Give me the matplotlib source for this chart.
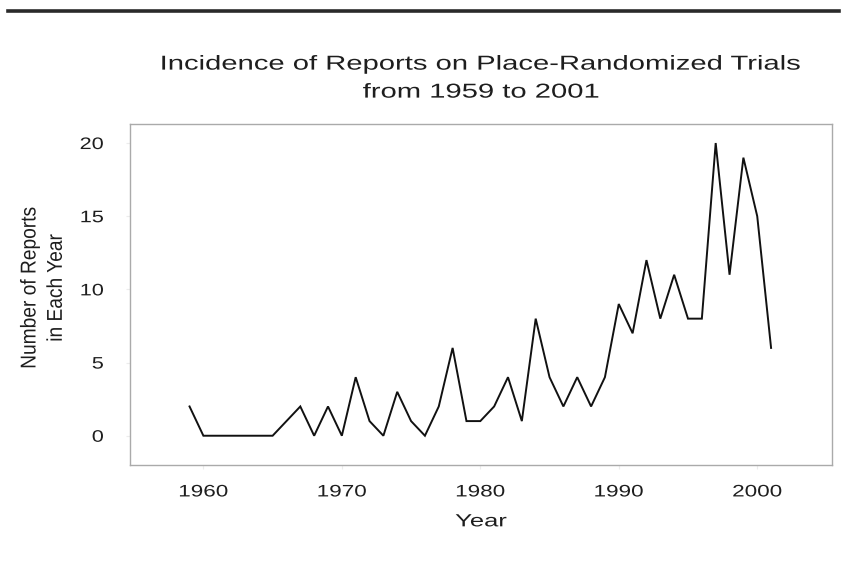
import matplotlib
matplotlib.use("Agg")
import matplotlib.pyplot as plt
from matplotlib.lines import Line2D
from matplotlib.patheffects import AbstractPathEffect
from matplotlib.transforms import Affine2D

years = list(range(1959, 2002))
reports = [2, 0, 0, 0, 0, 0, 0, 1, 2, 0, 2, 0, 4, 1, 0, 3, 1, 0, 2, 6, 1,
           1, 2, 4, 1, 8, 4, 2, 4, 2, 4, 9, 7, 12, 8, 11, 8, 8, 20, 11, 19,
           15, 6]
x_ticks = [1960, 1970, 1980, 1990, 2000]
y_ticks = [0, 5, 10, 15, 20]
title = 'Incidence of Reports on Place-Randomized Trials\nfrom 1959 to 2001'
xlabel = 'Year'
ylabel = 'Number of Reports\nin Each Year'


class HStretch(AbstractPathEffect):
    """Stretch rendered text horizontally (display x) about an anchor."""
    def __init__(self, sx, anchor='center'):
        super().__init__()
        self.sx = sx
        self.anchor = anchor

    def draw_path(self, renderer, gc, tpath, affine, rgbFace=None):
        ext = tpath.get_extents(affine)
        if self.anchor == 'right':
            cx = ext.x1
        elif self.anchor == 'left':
            cx = ext.x0
        else:
            cx = 0.5 * (ext.x0 + ext.x1)
        t = affine + Affine2D().translate(-cx, 0).scale(self.sx, 1).translate(cx, 0)
        renderer.draw_path(gc, tpath, t, rgbFace)


plt.rcParams['font.family'] = ['Liberation Sans', 'DejaVu Sans']
txt_color = '#1e1e1e'

fig = plt.figure(figsize=(8.41, 5.71), dpi=100)
ax = fig.add_axes([130/841, 1-465/571, (832-130)/841, (465-124)/571])

ax.plot(years, reports, color='#111111', lw=1.4, solid_joinstyle='miter')
ax.set_xlim(1954.7, 2005.4)
ax.set_ylim(-2.0, 21.3)
ax.set_xticks(x_ticks)
ax.set_yticks(y_ticks)
ax.tick_params(length=3, color='#ececec', labelsize=12, labelcolor=txt_color)
ax.tick_params(axis='x', pad=11)
ax.tick_params(axis='y', pad=16)
for s in ax.spines.values():
    s.set_color('#aaaaaa')
    s.set_linewidth(1.0)

for lab in ax.get_xticklabels():
    lab.set_path_effects([HStretch(1.35)])
for lab in ax.get_yticklabels():
    lab.set_path_effects([HStretch(1.3, 'right')])

xl = ax.set_xlabel(xlabel, fontsize=12.7, color=txt_color, labelpad=10)
xl.set_path_effects([HStretch(1.45)])

yl = ax.set_ylabel(ylabel, fontsize=13.8, color=txt_color, linespacing=1.7)
yl.set_path_effects([HStretch(1.12)])
ax.yaxis.set_label_coords((65 - 130) / 702, (465 - 288) / 341)

tt = ax.set_title(title, fontsize=14.5, color=txt_color, pad=19, linespacing=1.6)
tt.set_path_effects([HStretch(1.45)])

fig.add_artist(Line2D([8/841, 839/841], [1-10.5/571, 1-10.5/571],
                      transform=fig.transFigure, color='#2a2a2a', lw=2.6))

fig.savefig('out.png', dpi=100, facecolor='white')
